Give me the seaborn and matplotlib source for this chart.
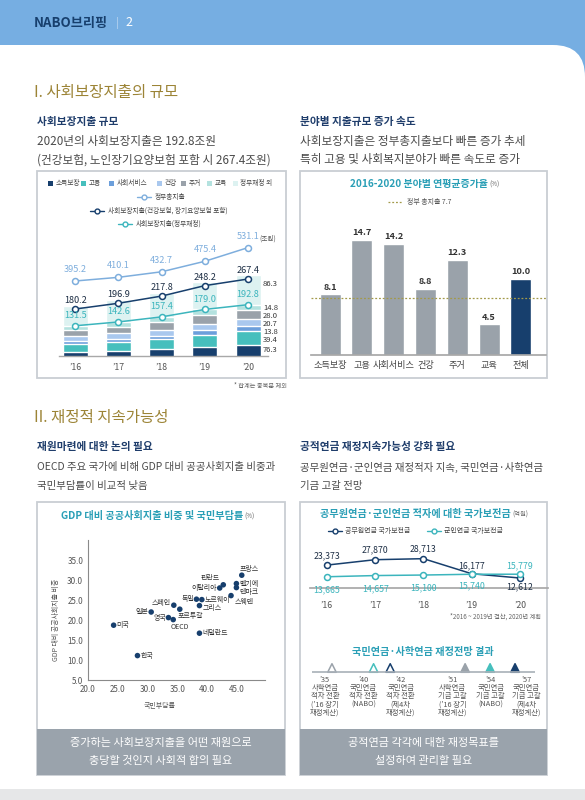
import numpy as np
import pandas as pd
import seaborn as sns
import matplotlib.pyplot as plt
from matplotlib.patches import Rectangle, FancyBboxPatch

# Data
years = ["’16", "’17", "’18", "’19", "’20"]
sectors = ["소득보장", "고용", "사회서비스", "건강", "주거", "교육", "정부재정 외"]
income = [55.9, 59.0, 63.5, 71.0, 76.3]
employment = [22.8, 25.5, 28.5, 35.0, 39.4]
social_service = [8.1, 9.0, 10.2, 12.0, 13.8]
health = [14.8, 16.0, 17.5, 19.5, 20.7]
housing = [17.6, 19.8, 23.5, 26.5, 28.0]
education = [12.3, 13.3, 14.2, 15.0, 14.8]
non_gov = [58.0, 63.5, 70.0, 79.5, 86.3]
gov_total = [395.2, 410.1, 432.7, 475.4, 531.1]
social_total = [180.2, 196.9, 217.8, 248.2, 267.4]
social_gov = [131.5, 142.6, 157.4, 179.0, 192.8]

growth_cats = ["소득보장", "고용", "사회서비스", "건강", "주거", "교육", "전체"]
growth_rates = [8.1, 14.7, 14.2, 8.8, 12.3, 4.5, 10.0]
gov_growth = 7.7

countries = ["프랑스", "벨기에", "덴마크", "핀란드", "이탈리아", "스웨덴", "노르웨이", "독일", "그리스",
             "스페인", "포르투갈", "일본", "영국", "OECD", "미국", "네덜란드", "한국"]
burden = [45.8, 44.9, 44.9, 42.7, 42.1, 44.0, 39.1, 38.2, 38.7,
          34.4, 35.4, 30.6, 33.5, 34.3, 24.3, 38.7, 28.3]
social_gdp = [31.2, 29.1, 28.1, 28.8, 28.0, 26.1, 25.1, 25.2, 23.6,
              23.7, 22.7, 22.0, 20.6, 20.1, 18.7, 16.7, 11.1]

pension_years = ["’16", "’17", "’18", "’19", "’20"]
civil_pension = [23373, 27870, 28713, 16177, 12612]
military_pension = [13665, 14657, 15100, 15740, 15779]

outlook_years = [2035, 2040, 2042, 2051, 2054, 2057]
outlook_labels = ["’35\n사학연금\n적자 전환\n(’16 장기\n재정계산)",
                  "’40\n국민연금\n적자 전환\n(NABO)",
                  "’42\n국민연금\n적자 전환\n(제4차\n재정계산)",
                  "’51\n사학연금\n기금 고갈\n(’16 장기\n재정계산)",
                  "’54\n국민연금\n기금 고갈\n(NABO)",
                  "’57\n국민연금\n기금 고갈\n(제4차\n재정계산)"]

# Style
sns.set_theme(style="white")
plt.rcParams["font.family"] = ["Noto Sans CJK KR", "DejaVu Sans"]
plt.rcParams["axes.unicode_minus"] = False

NAVY = "#173F6D"
TEAL = "#3CB5BD"
LBLUE = "#7EAEDD"
TTEAL = "#2A9FB6"
GRAY = "#9AA2AA"
BORDER = "#C9CED3"
TXT = "#4A4A4A"
SEG_COLORS = ["#173F6D", "#46BFBD", "#6C9FDB", "#A9C8EE", "#9AA2AA", "#B4E2DF", "#DDF2F1"]

W, H = 585, 800
fig = plt.figure(figsize=(W / 100, H / 100), dpi=100)
bg = fig.add_axes([0, 0, 1, 1])
bg.set_xlim(0, W)
bg.set_ylim(H, 0)
bg.axis("off")


def px_axes(x0, y0, x1, y1):
    ax = fig.add_axes([x0 / W, 1 - y1 / H, (x1 - x0) / W, (y1 - y0) / H])
    ax.set_facecolor("none")
    return ax


# Page frame
bg.add_patch(Rectangle((0, 0), W, 90, color="#76AEE2", lw=0))
bg.add_patch(FancyBboxPatch((-60, 45), W + 60, 820, boxstyle="round,pad=0,rounding_size=32",
                            fc="white", ec="none"))
bg.add_patch(Rectangle((0, 789), W, 11, color="#E6E7E8", lw=0))
bg.text(34, 23, "NABO브리핑", fontsize=9.5, fontweight="bold", color=NAVY, va="center")
bg.text(116, 23, "|", fontsize=8, color="#B8D4F0", va="center")
bg.text(125, 23, "2", fontsize=9, color="white", va="center")

# Section headings and texts
bg.text(34, 92, "I. 사회보장지출의 규모", fontsize=11.2, color="#9C8436", va="center")
bg.text(34, 417, "II. 재정적 지속가능성", fontsize=11.2, color="#9C8436", va="center")
heads = [(37, 122, "사회보장지출 규모"), (300, 122, "분야별 지출규모 증가 속도"),
         (37, 447, "재원마련에 대한 논의 필요"), (300, 447, "공적연금 재정지속가능성 강화 필요")]
for x, y, t in heads:
    bg.text(x, y, t, fontsize=7.7, fontweight="bold", color="#1F3D6B", va="center")
bodies_top = [(37, 142, "2020년의 사회보장지출은 192.8조원"),
              (37, 160, "(건강보험, 노인장기요양보험 포함 시 267.4조원)"),
              (300, 142, "사회보장지출은 정부총지출보다 빠른 증가 추세"),
              (300, 160, "특히 고용 및 사회복지분야가 빠른 속도로 증가")]
bodies_bottom = [(37, 467, "OECD 주요 국가에 비해 GDP 대비 공공사회지출 비중과"),
                 (37, 486, "국민부담률이 비교적 낮음"),
                 (300, 467, "공무원연금·군인연금 재정적자 지속, 국민연금·사학연금"),
                 (300, 486, "기금 고갈 전망")]
for x, y, t in bodies_top:
    bg.text(x, y, t, fontsize=8.4, color=TXT, va="center")
for x, y, t in bodies_bottom:
    bg.text(x, y, t, fontsize=7.5, color=TXT, va="center")

# Boxes
for x0, y0, x1, y1 in [(37, 171, 286, 378), (300, 171, 547, 378), (37, 502, 285, 775), (300, 502, 547, 775)]:
    bg.add_patch(Rectangle((x0, y0), x1 - x0, y1 - y0, fill=False, ec=BORDER, lw=1.3))
for x0, x1, lines in [(37, 285, ["증가하는 사회보장지출을 어떤 재원으로", "충당할 것인지 사회적 합의 필요"]),
                      (300, 547, ["공적연금 각각에 대한 재정목표를", "설정하여 관리할 필요"])]:
    bg.add_patch(Rectangle((x0, 729), x1 - x0, 46, color="#9AA3AC", lw=0))
    bg.text((x0 + x1) / 2, 743, lines[0], fontsize=8, color="white", ha="center", va="center")
    bg.text((x0 + x1) / 2, 761, lines[1], fontsize=8, color="white", ha="center", va="center")

# ---- Chart 1: stacked bars with lines
seg_df = pd.DataFrame({"연도": years, "소득보장": income, "고용": employment, "사회서비스": social_service,
                       "건강": health, "주거": housing, "교육": education, "정부재정 외": non_gov})
cum = seg_df[sectors].cumsum(axis=1)
ax1 = px_axes(59.2, 240, 267.5, 356)
for name, color in reversed(list(zip(sectors, SEG_COLORS))):
    sns.barplot(x=seg_df["연도"], y=cum[name], color=color, width=0.58, saturation=1, ax=ax1)
xs = np.arange(len(years))
line_kw = dict(marker="o", markersize=4.3, markerfacecolor="white", markeredgewidth=1.1, linewidth=1.1)
sns.lineplot(x=xs, y=social_total, color=NAVY, markeredgecolor=NAVY, ax=ax1, **line_kw)
sns.lineplot(x=xs, y=social_gov, color=TEAL, markeredgecolor=TEAL, ax=ax1, **line_kw)
for i in xs:
    ax1.annotate(f"{social_total[i]:.1f}", (i, social_total[i]), xytext=(0, 6.2), textcoords="offset points",
                 ha="center", va="center", fontsize=6.6, color="#1E2F45")
    ax1.annotate(f"{social_gov[i]:.1f}", (i, social_gov[i]), xytext=(0, 7.2), textcoords="offset points",
                 ha="center", va="center", fontsize=6.6, color=TEAL)
ax1.set_ylim(43.6, 380.8)
ax1b = ax1.twinx()
sns.lineplot(x=xs, y=gov_total, color=LBLUE, markeredgecolor=LBLUE, ax=ax1b, **line_kw)
for i in xs:
    ax1b.annotate(f"{gov_total[i]:.1f}", (i, gov_total[i]), xytext=(0, 8.3), textcoords="offset points",
                  ha="center", va="center", fontsize=6.6, color=LBLUE)
ax1b.set_ylim(90, 562)
ax1b.axis("off")
ax1.set_xlim(-0.37, 4.45)
ax1.set_xticks(xs)
ax1.set_xticklabels(years, fontsize=6.3, color="#555555")
ax1.tick_params(axis="x", length=0, pad=5)
ax1.set_yticks([])
ax1.set_xlabel("")
ax1.set_ylabel("")
for s in ["top", "left", "right"]:
    ax1.spines[s].set_visible(False)
ax1.spines["bottom"].set_color("#A8A8A8")
ax1.spines["bottom"].set_linewidth(1)

last_vals = [income[-1], employment[-1], social_service[-1], health[-1], housing[-1], education[-1], non_gov[-1]]
for v, y in zip(last_vals, [350, 339.5, 331.8, 324.2, 316, 308, 284]):
    bg.text(263, y, f"{v:.1f}", fontsize=5.5, color="#333333", va="center")

# legend of chart 1
leg_x = [48, 81, 109, 157, 181, 207, 233]
for x, name, color in zip(leg_x, sectors, SEG_COLORS):
    bg.add_patch(Rectangle((x, 181), 5, 5, color=color, lw=0))
    bg.text(x + 7.5, 183.5, name, fontsize=4.8, color="#444444", va="center")
for (x, y, c, t) in [(137, 197, LBLUE, "정부총지출"), (90, 211, NAVY, "사회보장지출(건강보험, 장기요양보험 포함)"),
                     (118, 224, TEAL, "사회보장지출(정부재정)")]:
    bg.plot([x, x + 14], [y, y], color=c, lw=1)
    bg.plot([x + 7], [y], marker="o", ms=3.5, mfc="white", mec=c, mew=1)
    bg.text(x + 18, y, t, fontsize=4.8, color="#444444", va="center")
bg.text(268, 239, "(조원)", fontsize=4.8, color="#555555", ha="center", va="center")
bg.text(287, 386, "* 합계는 중복분 제외", fontsize=4.5, color="#666666", ha="right", va="center")

# ---- Chart 2: growth rates
ax2 = px_axes(311, 215, 546, 355)
growth_df = pd.DataFrame({"분야": growth_cats, "증가율": growth_rates})
sns.barplot(data=growth_df, x="분야", y="증가율", hue="분야", legend=False,
            palette=[GRAY] * 6 + [NAVY], width=0.66, saturation=1, ax=ax2)
ax2.axhline(gov_growth, color="#A39A4A", lw=0.9, ls=(0, (1.5, 1.5)))
for i, v in enumerate(growth_rates):
    ax2.annotate(f"{v:.1f}", (i, v), xytext=(0, 2), textcoords="offset points", ha="center", va="bottom",
                 fontsize=6.6, fontweight="bold", color="#333333")
ax2.set_xlim(-0.6, 6.79)
ax2.set_ylim(0.79, 17.7)
ax2.set_yticks([])
ax2.set_xlabel("")
ax2.set_ylabel("")
ax2.tick_params(axis="x", length=0, pad=4, labelsize=6.6, labelcolor="#444444")
for s in ["top", "left", "right"]:
    ax2.spines[s].set_visible(False)
ax2.spines["bottom"].set_color("#A8A8A8")
bg.text(488, 184, "2016-2020 분야별 연평균증가율", fontsize=7.2, fontweight="bold", color=TTEAL,
        ha="right", va="center")
bg.text(489, 185, "(%)", fontsize=4.5, color="#666666", ha="left", va="center")
bg.plot([388, 402], [202, 202], color="#A39A4A", lw=0.9, ls=(0, (1.5, 1.5)))
bg.text(407, 202, f"정부 총지출 {gov_growth}", fontsize=5, color="#555555", va="center")

# ---- Chart 3: scatter
ax3 = px_axes(88, 540, 265, 680)
sc_df = pd.DataFrame({"국가": countries, "국민부담률": burden, "비중": social_gdp})
sns.scatterplot(data=sc_df, x="국민부담률", y="비중", color=NAVY, s=16, edgecolor="none", ax=ax3)
label_offsets = {"프랑스": (5, 4.8, "center"), "벨기에": (2, 0, "left"), "덴마크": (2, -2.9, "left"),
                 "핀란드": (-2.4, 4.6, "right"), "이탈리아": (-2.2, -0.3, "right"), "스웨덴": (2.4, -4.8, "left"),
                 "노르웨이": (1.7, 0, "left"), "독일": (-1.5, 0, "right"), "그리스": (2.2, -1.4, "left"),
                 "스페인": (-2.2, 1.7, "right"), "포르투갈": (-1.4, -4.8, "left"), "일본": (-2.2, 0, "right"),
                 "영국": (-1.9, 0, "right"), "OECD": (5, -5, "center"), "미국": (2.2, 0, "left"),
                 "네덜란드": (2, 0, "left"), "한국": (2.2, 0, "left")}
for c, x, y in zip(countries, burden, social_gdp):
    dx, dy, ha = label_offsets[c]
    ax3.annotate(c, (x, y), xytext=(dx, dy), textcoords="offset points", ha=ha, va="center",
                 fontsize=5, color="#333333")
ax3.set_xlim(20, 49.7)
ax3.set_ylim(5, 40)
ax3.set_xticks(np.arange(20, 46, 5))
ax3.set_yticks(np.arange(5, 36, 5))
ax3.set_xticklabels([f"{v:.1f}" for v in np.arange(20, 46, 5)])
ax3.set_yticklabels([f"{v:.1f}" for v in np.arange(5, 36, 5)])
ax3.tick_params(length=0, labelsize=5.8, labelcolor="#555555", pad=3.5)
for s in ["top", "right"]:
    ax3.spines[s].set_visible(False)
for s in ["left", "bottom"]:
    ax3.spines[s].set_color("#8A8A8A")
    ax3.spines[s].set_linewidth(0.8)
ax3.set_xlabel("")
ax3.set_ylabel("")
bg.text(160, 706, "국민부담률", fontsize=5, color="#555555", ha="center", va="center")
bg.text(56, 620, "GDP 대비 공공사회지출 비중", fontsize=5, color="#555555", ha="center", va="center",
        rotation=90)
bg.text(243, 516, "GDP 대비 공공사회지출 비중 및 국민부담률", fontsize=7.3, fontweight="bold", color=TTEAL,
        ha="right", va="center")
bg.text(244, 517, "(%)", fontsize=4.5, color="#666666", ha="left", va="center")

# ---- Chart 4: pension lines
ax4 = px_axes(310, 545, 548, 588)
px_ = np.arange(len(pension_years))
sns.lineplot(x=px_, y=civil_pension, color=NAVY, markeredgecolor=NAVY, ax=ax4, **line_kw)
sns.lineplot(x=px_, y=military_pension, color=TEAL, markeredgecolor=TEAL, ax=ax4, **line_kw)
civil_dy = [7, 7, 7, 6, -6.5]
military_dy = [-9.5, -9.5, -9.5, -8.5, 6]
for i in px_:
    ax4.annotate(f"{civil_pension[i]:,}", (i, civil_pension[i]), xytext=(0, civil_dy[i]),
                 textcoords="offset points", ha="center", va="center", fontsize=6.3, color="#1E2F45")
    ax4.annotate(f"{military_pension[i]:,}", (i, military_pension[i]), xytext=(0, military_dy[i]),
                 textcoords="offset points", ha="center", va="center", fontsize=6.3, color=TEAL)
ax4.set_xlim(-0.35, 4.58)
ax4.set_ylim(4300, 40100)
ax4.set_xticks(px_)
ax4.set_xticklabels(pension_years)
ax4.set_yticks([])
ax4.tick_params(axis="x", length=0, pad=9, labelsize=6.3, labelcolor="#555555")
for s in ["top", "left", "right"]:
    ax4.spines[s].set_visible(False)
ax4.spines["bottom"].set_color("#A8A8A8")
ax4.set_xlabel("")
ax4.set_ylabel("")
bg.text(511, 514, "공무원연금·군인연금 적자에 대한 국가보전금", fontsize=7.3, fontweight="bold", color=TTEAL,
        ha="right", va="center")
bg.text(512, 515, "(억원)", fontsize=4.5, color="#666666", ha="left", va="center")
for (x, c, t) in [(328, NAVY, "공무원연금 국가보전금"), (427, TEAL, "군인연금 국가보전금")]:
    bg.plot([x, x + 14], [531, 531], color=c, lw=1)
    bg.plot([x + 7], [531], marker="o", ms=3.5, mfc="white", mec=c, mew=1)
    bg.text(x + 17, 531, t, fontsize=5, color="#444444", va="center")
bg.text(541, 617, "*2016 ~ 2019년 결산, 2020년 계획", fontsize=4.5, color="#666666", ha="right", va="center")

# ---- Timeline
bg.text(423, 652, "국민연금·사학연금 재정전망 결과", fontsize=7.3, fontweight="bold", color=TTEAL,
        ha="center", va="center")
ax5 = px_axes(312, 660, 535, 680)
ax5.axhline(0.4, color="#A8B0B8", lw=1.2)
tl_colors = [GRAY, "#46BFBD", NAVY, GRAY, "#46BFBD", NAVY]
tl_fill = ["white", "white", "white", GRAY, "#46BFBD", NAVY]
sns.scatterplot(x=outlook_years, y=[0.6] * 6, marker="^", s=38, hue=outlook_years, palette=tl_fill,
                edgecolor=tl_colors, linewidth=1.1, legend=False, ax=ax5)
ax5.set_xlim(2032.6, 2059.4)
ax5.set_ylim(0, 1)
ax5.axis("off")
tl_align = [(5.5, "right"), (3, "right"), (-3, "left"), (1.5, "right"), (0.5, "center"), (-2.5, "left")]
for yr, lab, (dx, ha) in zip(outlook_years, outlook_labels, tl_align):
    ax5.annotate(lab, (yr, 0.4), xycoords=("data", "axes fraction"), xytext=(dx, -3),
                 textcoords="offset points", ha=ha, va="top", fontsize=5.3, color="#555555",
                 linespacing=1.0, multialignment="center")

fig.savefig("out.png", dpi=100)
